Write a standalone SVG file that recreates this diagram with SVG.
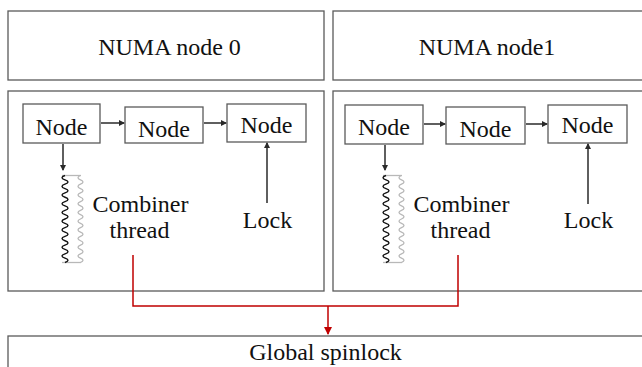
<svg xmlns="http://www.w3.org/2000/svg" width="642" height="367" viewBox="0 0 642 367">
<style>
.box{fill:#fff;stroke:#5a5a5a;stroke-width:1.3}
.nb{fill:#fff;stroke:#5a5a5a;stroke-width:1.3}
.t{font-family:'Liberation Serif','Times New Roman','DejaVu Serif',serif;font-size:24px;fill:#111;text-anchor:middle}
.ar{stroke:#2a2a2a;stroke-width:1.5;fill:none;marker-end:url(#ah)}
.red{stroke:#c00000;stroke-width:1.5;fill:none}
.wb{stroke:#111;stroke-width:1.4;fill:none}
.wg{stroke:#b8b8b8;stroke-width:1.3;fill:none}
</style>
<defs>
<marker id="ah" markerWidth="6" markerHeight="6" refX="5" refY="3" orient="auto" markerUnits="userSpaceOnUse">
<path d="M0,0 L6,3 L0,6 Z" fill="#2a2a2a"/>
</marker>
<marker id="rh" markerWidth="8" markerHeight="8" refX="7" refY="4" orient="auto" markerUnits="userSpaceOnUse">
<path d="M0,0 L8,4 L0,8 Z" fill="#c00000"/>
</marker>
<g id="wave">
<path class="wg" d="M62,175.5 H81"/>
<path class="wg" d="M62,262.5 H81"/>
<path class="wg" d="M80.5,175.5 q-5,2.175 0,4.35 t0,4.35 t0,4.35 t0,4.35 t0,4.35 t0,4.35 t0,4.35 t0,4.35 t0,4.35 t0,4.35 t0,4.35 t0,4.35 t0,4.35 t0,4.35 t0,4.35 t0,4.35 t0,4.35 t0,4.35 t0,4.35 t0,4.35"/>
<path class="wb" d="M65,175.5 q-6,2.175 0,4.35 t0,4.35 t0,4.35 t0,4.35 t0,4.35 t0,4.35 t0,4.35 t0,4.35 t0,4.35 t0,4.35 t0,4.35 t0,4.35 t0,4.35 t0,4.35 t0,4.35 t0,4.35 t0,4.35 t0,4.35 t0,4.35 t0,4.35"/>
</g>
</defs>

<g id="numa0-header">
<rect class="box" x="8" y="11" width="316" height="69"/>
<text class="t" x="169.5" y="55">NUMA node 0</text>
</g>
<g id="numa1-header">
<rect class="box" x="333" y="11" width="320" height="69"/>
<text class="t" x="487" y="55">NUMA node1</text>
</g>

<g id="numa0-panel">
<rect class="box" x="8" y="91" width="316" height="200"/>
</g>
<g id="numa1-panel">
<rect class="box" x="333" y="91" width="320" height="200"/>
</g>

<g id="p0-node1"><rect class="nb" x="23" y="104" width="77" height="39"/><text class="t" x="61.5" y="135">Node</text></g>
<g id="p0-node2"><rect class="nb" x="125" y="107" width="78" height="36"/><text class="t" x="164" y="137">Node</text></g>
<g id="p0-node3"><rect class="nb" x="227" y="104" width="79" height="38"/><text class="t" x="266.5" y="133">Node</text></g>
<g id="p0-combiner">
<use href="#wave"/>
<text class="t" x="140.5" y="212">Combiner</text>
<text class="t" x="139.5" y="238">thread</text>
</g>
<g id="p0-lock"><text class="t" x="267.5" y="228">Lock</text></g>

<g id="p1-node1"><rect class="nb" x="345" y="105" width="78" height="39"/><text class="t" x="384" y="135">Node</text></g>
<g id="p1-node2"><rect class="nb" x="446" y="107" width="79" height="37"/><text class="t" x="485.5" y="137">Node</text></g>
<g id="p1-node3"><rect class="nb" x="548" y="105" width="79" height="38"/><text class="t" x="587.5" y="133">Node</text></g>
<g id="p1-combiner">
<use href="#wave" transform="translate(321,0)"/>
<text class="t" x="461.5" y="212">Combiner</text>
<text class="t" x="460.5" y="238">thread</text>
</g>
<g id="p1-lock"><text class="t" x="588.5" y="228">Lock</text></g>

<g id="global-spinlock">
<rect class="box" x="8" y="336" width="650" height="40"/>
<text class="t" x="325.5" y="360">Global spinlock</text>
</g>

<g id="connectors">
<path class="ar" d="M101,123 H124"/>
<path class="ar" d="M204,123 H226"/>
<path class="ar" d="M63,144 V170"/>
<path class="ar" d="M267,203 V143"/>
<path class="ar" d="M424,124 H445"/>
<path class="ar" d="M526,124 H547"/>
<path class="ar" d="M385,145 V170"/>
<path class="ar" d="M588,204 V144"/>
<path class="red" d="M133,255 V306 H458 V255"/>
<path class="red" d="M328,306 V334" marker-end="url(#rh)"/>
</g>
</svg>
